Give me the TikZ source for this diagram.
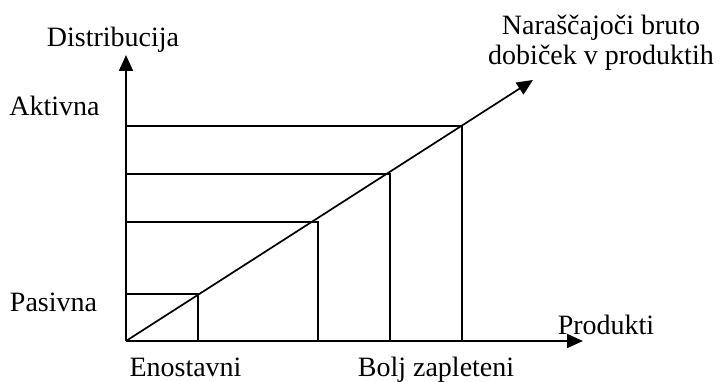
\documentclass[tikz,border=0pt]{standalone}
\usepackage{fontspec}
\setmainfont{Liberation Serif}
\usetikzlibrary{arrows.meta}
\begin{document}
\begin{tikzpicture}[x=1pt,y=1pt,
  axis/.style={line width=1.7pt,-{Triangle[length=16pt,width=14pt]}},
  grid line/.style={line width=1.7pt},
  lbl/.style={inner sep=0pt,anchor=base,font=\fontsize{28}{30}\selectfont}]
\useasboundingbox (0,0) rectangle (726,382);
% axes
\coordinate (O) at (126,41);
\coordinate (Ytip) at (126,327);
\coordinate (Xtip) at (583,41);
\coordinate (Dtip) at (533,302);
% corners
\coordinate (c1) at (198,88);
\coordinate (c2) at (318,160);
\coordinate (c3) at (390,208);
\coordinate (c4) at (462,256);
\foreach \c in {c1,c2,c3,c4}{
  \draw[grid line] (O |- \c) -- (\c) -- (\c |- O);
}
\draw[axis] (O) -- (Ytip);
\draw[axis] (O) -- (Xtip);
\draw[axis] (O) -- (Dtip);
% labels
\node[lbl] (ylab) at (113,335) {Distribucija};
\node[lbl] (akt) at (54.5,266) {Aktivna};
\node[lbl] (pas) at (53.5,70) {Pasivna};
\node[lbl] (eno) at (185.5,5) {Enostavni};
\node[lbl] (bolj) at (436,5) {Bolj zapleteni};
\node[lbl] (xlab) at (606,47) {Produkti};
\node[lbl] (dl1) at (601,347) {Naraščajoči bruto};
\node[lbl] (dl2) at (601,317) {dobiček v produktih};
\end{tikzpicture}
\end{document}
